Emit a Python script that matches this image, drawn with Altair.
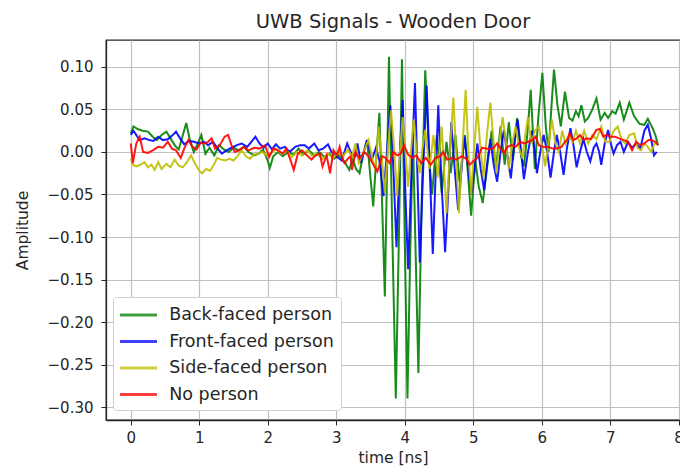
import altair as alt
import pandas as pd

chart_title = "UWB Signals - Wooden Door"
x_title = "time [ns]"
y_title = "Amplitude"
series_names = ["Back-faced person", "Front-faced person", "Side-faced person", "No person"]
series_colors = ["#008000", "#0000ff", "#bfbf00", "#ff0000"]
x_ticks = [0, 1, 2, 3, 4, 5, 6, 7, 8]
y_ticks = [-0.30, -0.25, -0.20, -0.15, -0.10, -0.05, 0.00, 0.05, 0.10]

back_faced = [
    (0.00, 0.022), (0.04, 0.030), (0.10, 0.027), (0.17, 0.025), (0.25, 0.024), (0.32, 0.018),
    (0.38, 0.014), (0.45, 0.020), (0.52, 0.024), (0.58, 0.016), (0.65, 0.007), (0.70, 0.003),
    (0.76, 0.020), (0.81, 0.034), (0.86, 0.015), (0.92, 0.000), (0.98, 0.010), (1.03, 0.020),
    (1.09, -0.002), (1.15, 0.005), (1.22, -0.004), (1.29, 0.008), (1.36, 0.003), (1.43, 0.000),
    (1.50, 0.005), (1.58, 0.002), (1.65, 0.006), (1.72, 0.000), (1.80, -0.004), (1.87, -0.002),
    (1.93, 0.003), (2.00, -0.010), (2.03, -0.019), (2.08, -0.005), (2.15, 0.000), (2.22, -0.005),
    (2.30, 0.000), (2.38, -0.003), (2.45, 0.004), (2.52, -0.003), (2.60, 0.002), (2.68, -0.004),
    (2.75, 0.000), (2.83, -0.006), (2.90, -0.002), (2.97, -0.008), (3.04, -0.004), (3.11, -0.010),
    (3.19, -0.021), (3.24, -0.008), (3.29, -0.020), (3.34, -0.025), (3.40, 0.000), (3.45, 0.014),
    (3.50, -0.030), (3.54, -0.064), (3.59, 0.000), (3.63, 0.046), (3.67, -0.060), (3.71, -0.170),
    (3.74, -0.030), (3.77, 0.112), (3.82, -0.100), (3.87, -0.290), (3.92, -0.080), (3.96, 0.109),
    (4.00, -0.100), (4.04, -0.290), (4.08, -0.120), (4.12, 0.020), (4.16, -0.120), (4.20, -0.260),
    (4.25, -0.050), (4.30, 0.096), (4.36, -0.010), (4.40, -0.050), (4.47, 0.020), (4.54, -0.048),
    (4.61, 0.012), (4.67, -0.025), (4.74, 0.020), (4.80, -0.035), (4.88, 0.020), (4.97, -0.075),
    (5.03, -0.010), (5.08, -0.040), (5.14, -0.060), (5.20, -0.020), (5.27, 0.025), (5.33, -0.020),
    (5.40, 0.030), (5.46, -0.015), (5.52, 0.035), (5.58, -0.010), (5.64, 0.040), (5.70, -0.005),
    (5.74, -0.017), (5.79, 0.020), (5.84, 0.073), (5.90, -0.020), (5.95, 0.040), (6.01, 0.093),
    (6.06, 0.030), (6.10, 0.000), (6.14, 0.050), (6.18, 0.097), (6.23, 0.055), (6.28, 0.030),
    (6.34, 0.071), (6.40, 0.040), (6.45, 0.037), (6.50, 0.048), (6.54, 0.042), (6.58, 0.055),
    (6.63, 0.036), (6.68, 0.040), (6.74, 0.050), (6.80, 0.063), (6.86, 0.038), (6.92, 0.046),
    (6.97, 0.040), (7.03, 0.048), (7.08, 0.045), (7.14, 0.058), (7.20, 0.038), (7.28, 0.058),
    (7.35, 0.042), (7.43, 0.033), (7.50, 0.032), (7.55, 0.039), (7.62, 0.028), (7.66, 0.020),
    (7.70, 0.008),
]

front_faced = [
    (0.00, 0.020), (0.04, 0.025), (0.08, 0.020), (0.13, 0.014), (0.20, 0.016), (0.27, 0.014),
    (0.33, 0.013), (0.40, 0.018), (0.47, 0.014), (0.54, 0.015), (0.60, 0.019), (0.66, 0.024),
    (0.72, 0.016), (0.78, 0.009), (0.85, 0.013), (0.92, 0.012), (1.00, 0.010), (1.07, 0.012),
    (1.13, 0.008), (1.20, 0.012), (1.27, 0.004), (1.33, -0.002), (1.40, 0.002), (1.47, 0.005),
    (1.55, 0.008), (1.62, 0.010), (1.70, 0.006), (1.76, 0.012), (1.82, 0.018), (1.88, 0.010),
    (1.94, 0.005), (2.00, 0.010), (2.06, 0.003), (2.12, 0.009), (2.18, 0.004), (2.25, 0.006),
    (2.32, 0.000), (2.40, 0.006), (2.47, 0.008), (2.54, 0.008), (2.60, 0.004), (2.68, 0.010),
    (2.74, 0.002), (2.81, 0.004), (2.88, 0.009), (2.93, 0.000), (3.00, -0.005), (3.08, -0.010),
    (3.16, 0.010), (3.22, -0.002), (3.28, -0.005), (3.31, 0.010), (3.36, -0.013), (3.45, 0.014),
    (3.52, -0.009), (3.58, 0.005), (3.63, -0.010), (3.69, -0.052), (3.74, 0.000), (3.79, 0.055),
    (3.84, -0.030), (3.88, -0.112), (3.93, 0.000), (3.97, 0.061), (4.01, -0.050), (4.05, -0.138),
    (4.10, -0.020), (4.15, 0.081), (4.19, -0.040), (4.22, -0.130), (4.27, -0.020), (4.32, 0.078),
    (4.37, -0.030), (4.41, -0.120), (4.45, -0.030), (4.49, 0.055), (4.54, -0.040), (4.59, -0.118),
    (4.64, -0.040), (4.68, 0.035), (4.73, -0.020), (4.78, -0.068), (4.83, -0.020), (4.87, 0.018),
    (4.92, -0.015), (4.97, -0.050), (5.02, -0.020), (5.06, 0.010), (5.11, -0.020), (5.16, -0.045),
    (5.21, -0.010), (5.25, 0.015), (5.30, -0.015), (5.35, -0.035), (5.40, 0.000), (5.45, 0.026),
    (5.50, -0.005), (5.55, -0.031), (5.60, 0.010), (5.65, 0.038), (5.70, 0.000), (5.74, -0.032),
    (5.80, 0.000), (5.86, 0.025), (5.90, 0.000), (5.93, -0.025), (5.98, 0.000), (6.03, 0.020),
    (6.08, 0.000), (6.13, -0.030), (6.18, 0.000), (6.22, 0.020), (6.27, 0.000), (6.32, -0.027),
    (6.37, 0.005), (6.42, 0.028), (6.47, 0.005), (6.51, -0.018), (6.56, 0.000), (6.61, 0.015),
    (6.66, 0.000), (6.71, -0.011), (6.76, 0.005), (6.80, 0.010), (6.84, 0.000), (6.87, -0.015),
    (6.92, 0.010), (6.97, 0.026), (7.01, 0.010), (7.05, -0.002), (7.10, 0.008), (7.15, 0.012),
    (7.20, 0.000), (7.26, 0.012), (7.32, 0.005), (7.38, 0.010), (7.44, 0.004), (7.50, 0.025),
    (7.55, 0.032), (7.60, 0.015), (7.64, -0.004), (7.68, 0.000),
]

side_faced = [
    (0.00, -0.008), (0.03, -0.015), (0.08, -0.017), (0.14, -0.015), (0.20, -0.012), (0.25, -0.018),
    (0.30, -0.015), (0.35, -0.021), (0.40, -0.012), (0.45, -0.020), (0.52, -0.014), (0.58, -0.018),
    (0.64, -0.009), (0.70, -0.016), (0.76, -0.018), (0.82, -0.012), (0.88, -0.004), (0.94, -0.014),
    (1.00, -0.022), (1.04, -0.025), (1.10, -0.020), (1.16, -0.022), (1.22, -0.014), (1.26, -0.007),
    (1.32, -0.009), (1.38, -0.010), (1.44, -0.008), (1.50, -0.010), (1.56, -0.005), (1.62, 0.002),
    (1.68, -0.005), (1.74, -0.008), (1.80, -0.003), (1.86, -0.002), (1.92, 0.000), (1.98, -0.004),
    (2.05, -0.002), (2.12, 0.004), (2.20, -0.002), (2.28, 0.002), (2.35, -0.006), (2.42, 0.000),
    (2.50, -0.004), (2.58, 0.002), (2.65, -0.005), (2.72, -0.002), (2.80, -0.008), (2.88, -0.002),
    (2.95, -0.008), (3.02, 0.000), (3.10, -0.005), (3.17, 0.003), (3.23, -0.006), (3.28, 0.010),
    (3.33, -0.013), (3.40, 0.000), (3.47, 0.014), (3.52, -0.005), (3.57, -0.021), (3.62, 0.030),
    (3.67, -0.010), (3.71, -0.048), (3.76, 0.010), (3.80, 0.049), (3.85, 0.000), (3.89, -0.052),
    (3.93, 0.000), (3.97, 0.041), (4.01, 0.000), (4.05, -0.041), (4.09, 0.000), (4.13, 0.038),
    (4.18, -0.005), (4.22, -0.025), (4.26, 0.005), (4.30, 0.026), (4.36, -0.020), (4.42, 0.020),
    (4.48, -0.030), (4.54, 0.030), (4.61, -0.072), (4.66, 0.000), (4.71, 0.064), (4.75, 0.000),
    (4.79, -0.072), (4.84, 0.000), (4.89, 0.073), (4.93, 0.000), (4.97, -0.050), (5.01, 0.000),
    (5.06, 0.053), (5.10, 0.010), (5.15, -0.030), (5.20, 0.020), (5.25, 0.058), (5.30, 0.010),
    (5.34, -0.025), (5.38, 0.010), (5.43, 0.041), (5.48, 0.010), (5.52, -0.020), (5.57, 0.010),
    (5.62, 0.030), (5.67, 0.005), (5.72, -0.008), (5.76, 0.020), (5.80, 0.041), (5.85, 0.010),
    (5.90, 0.025), (5.96, 0.030), (6.00, 0.010), (6.05, -0.017), (6.10, 0.010), (6.15, 0.038),
    (6.20, 0.010), (6.25, 0.000), (6.30, 0.025), (6.35, 0.010), (6.40, 0.020), (6.45, 0.012),
    (6.50, 0.025), (6.56, 0.010), (6.62, 0.025), (6.68, 0.010), (6.74, 0.020), (6.80, 0.015),
    (6.87, 0.030), (6.93, 0.012), (6.99, 0.012), (7.05, 0.025), (7.11, 0.030), (7.17, 0.014),
    (7.22, 0.010), (7.28, 0.020), (7.35, 0.022), (7.40, 0.005), (7.45, 0.002), (7.50, 0.010),
    (7.55, 0.006), (7.60, 0.000), (7.65, 0.010), (7.70, 0.010),
]

no_person = [
    (0.00, 0.010), (0.03, -0.013), (0.08, 0.010), (0.13, 0.018), (0.18, 0.000), (0.25, -0.001),
    (0.32, 0.002), (0.40, 0.006), (0.47, 0.005), (0.54, 0.012), (0.60, 0.004), (0.66, 0.002),
    (0.73, -0.007), (0.78, 0.004), (0.84, 0.014), (0.90, 0.006), (0.96, 0.003), (1.02, 0.011),
    (1.08, 0.010), (1.13, 0.012), (1.18, 0.016), (1.23, 0.004), (1.30, 0.008), (1.37, 0.018),
    (1.42, 0.020), (1.47, 0.008), (1.52, 0.000), (1.58, 0.002), (1.65, 0.006), (1.72, 0.002),
    (1.80, 0.005), (1.88, 0.004), (1.96, 0.008), (2.02, -0.006), (2.08, 0.004), (2.15, 0.002),
    (2.22, -0.002), (2.27, 0.004), (2.33, -0.009), (2.38, -0.021), (2.44, -0.002), (2.50, 0.002),
    (2.56, -0.003), (2.64, -0.009), (2.70, -0.004), (2.76, -0.002), (2.80, -0.017), (2.86, -0.004),
    (2.91, -0.025), (2.96, 0.002), (3.01, -0.004), (3.05, 0.006), (3.09, -0.009), (3.12, -0.013),
    (3.17, -0.008), (3.21, -0.005), (3.23, -0.021), (3.28, 0.000), (3.34, -0.008), (3.41, 0.000),
    (3.47, -0.005), (3.53, -0.013), (3.60, -0.023), (3.67, -0.005), (3.72, -0.007), (3.78, -0.013),
    (3.83, 0.000), (3.89, -0.004), (3.94, -0.002), (3.99, 0.008), (4.05, -0.003), (4.11, -0.007),
    (4.17, -0.004), (4.24, -0.013), (4.31, -0.007), (4.38, -0.015), (4.45, -0.007), (4.52, -0.005),
    (4.56, 0.000), (4.62, -0.009), (4.69, -0.007), (4.76, -0.009), (4.83, -0.005), (4.90, -0.008),
    (4.95, -0.015), (5.00, -0.011), (5.06, -0.007), (5.13, 0.005), (5.19, 0.004), (5.24, 0.003),
    (5.30, 0.005), (5.35, 0.010), (5.40, 0.004), (5.45, -0.001), (5.50, 0.006), (5.56, 0.008),
    (5.62, 0.006), (5.69, 0.012), (5.74, 0.010), (5.80, 0.012), (5.86, 0.014), (5.91, 0.018),
    (5.96, 0.008), (6.03, 0.006), (6.10, 0.006), (6.16, 0.004), (6.22, 0.004), (6.29, 0.006),
    (6.34, 0.012), (6.37, 0.014), (6.41, 0.022), (6.46, 0.014), (6.51, 0.016), (6.56, 0.020),
    (6.61, 0.014), (6.66, 0.016), (6.72, 0.015), (6.80, 0.026), (6.85, 0.027), (6.90, 0.018),
    (6.95, 0.020), (7.00, 0.018), (7.07, 0.018), (7.13, 0.016), (7.20, 0.014), (7.26, 0.012),
    (7.32, 0.002), (7.38, 0.012), (7.44, 0.008), (7.50, 0.010), (7.56, 0.014), (7.60, 0.014),
    (7.66, 0.012), (7.70, 0.008),
]

all_series = [back_faced, front_faced, side_faced, no_person]

rows = []
for name, pts in zip(series_names, all_series):
    for i, (t, v) in enumerate(pts):
        rows.append({"series": name, "idx": i, "time": t, "amp": v})
df = pd.DataFrame(rows)

FONT = "DejaVu Sans"
TXT = "#262626"

x_enc = alt.X(
    "time:Q",
    scale=alt.Scale(domain=[-0.362, 8.02], nice=False, zero=False),
    axis=alt.Axis(values=x_ticks, format="d", title=x_title, titlePadding=5,
                  labelPadding=5),
)
y_enc = alt.Y(
    "amp:Q",
    scale=alt.Scale(domain=[-0.3152, 0.1317], nice=False, zero=False),
    axis=alt.Axis(values=y_ticks, format=".2f", title=y_title, titlePadding=17,
                  labelPadding=8),
)
color_enc = alt.Color(
    "series:N",
    scale=alt.Scale(domain=series_names, range=series_colors),
    legend=alt.Legend(
        title=None,
        orient="none",
        legendX=7,
        legendY=257,
        symbolType="M-1,0H3",
        symbolSize=342,
        symbolStrokeWidth=3,
        symbolOffset=-1.75,
        symbolOpacity=0.75,
        labelFontSize=17.5,
        labelFont=FONT,
        labelColor=TXT,
        labelOffset=29,
        labelLimit=400,
        rowPadding=6.5,
        padding=7,
        fillColor="white",
        strokeColor="#d0d0d0",
        cornerRadius=3,
    ),
)

layers = []
for name in series_names:
    layers.append(
        alt.Chart(df)
        .transform_filter(alt.datum.series == name)
        .mark_line(strokeWidth=2, opacity=0.9)
        .encode(x=x_enc, y=y_enc, color=color_enc, order="idx:Q")
    )

chart = (
    alt.layer(*layers)
    .properties(
        width=574,
        height=380,
        title=alt.TitleParams(
            text=chart_title, font=FONT, fontSize=19.5, fontWeight="normal",
            color=TXT, anchor="middle", offset=8,
        ),
        autosize=alt.AutoSizeParams(type="none"),
        padding={"left": 98, "top": 32, "right": 0, "bottom": 46},
    )
    .configure_view(stroke="#262626", strokeWidth=1.3)
    .configure_axis(
        labelFont=FONT,
        titleFont=FONT,
        labelFontSize=15,
        titleFontSize=15.5,
        labelColor=TXT,
        titleColor=TXT,
        titleFontWeight="normal",
        tickColor="#262626",
        tickSize=5,
        domainColor="#262626",
        domainWidth=1.3,
        gridColor="#c0c0c0",
        gridWidth=1.2,
    )
)

chart.save("out.html", embed_options={"renderer": "svg", "actions": False})
